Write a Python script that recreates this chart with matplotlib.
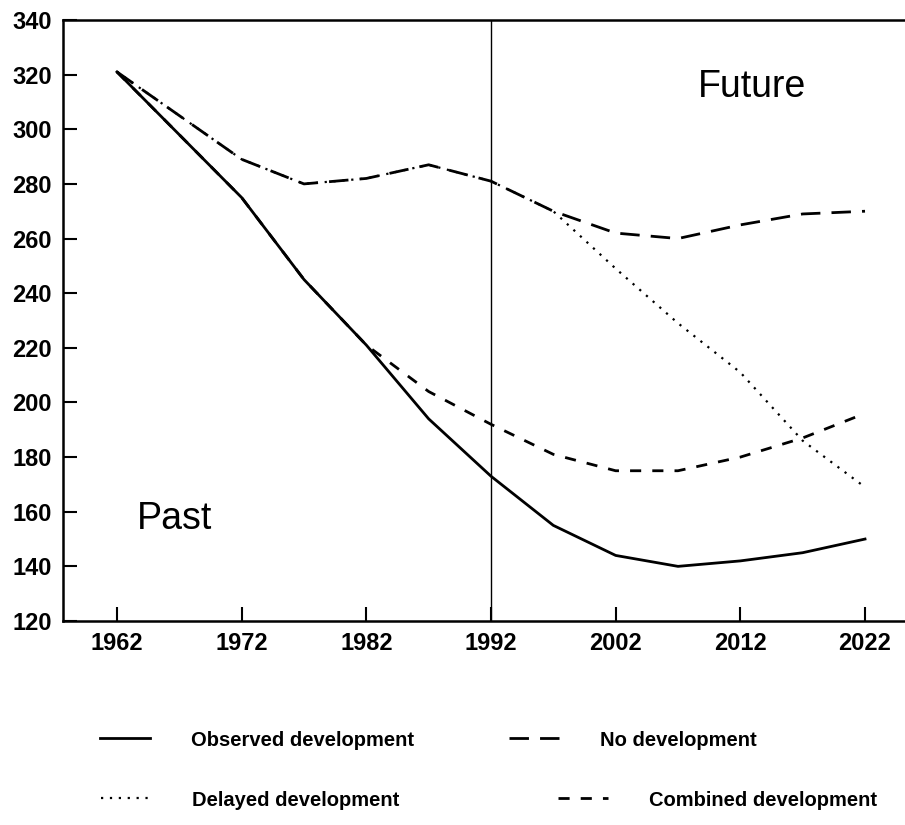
import matplotlib
matplotlib.use("Agg")
import matplotlib.pyplot as plt

plt.rcParams['font.family'] = ['Liberation Sans', 'DejaVu Sans']

years = [1962, 1972, 1977, 1982, 1987, 1992, 1997, 2002, 2007, 2012, 2017, 2022]
observed = [321, 275, 245, 221, 194, 173, 155, 144, 140, 142, 145, 150]
no_dev = [321, 289, 280, 282, 287, 281, 270, 262, 260, 265, 269, 270]
delayed = [321, 289, 280, 282, 287, 281, 270, 249, 229, 211, 186, 169]
combined = [321, 275, 245, 221, 204, 192, 181, 175, 175, 180, 187, 196]

xticks = [1962, 1972, 1982, 1992, 2002, 2012, 2022]
yticks = list(range(120, 341, 20))

fig = plt.figure(figsize=(9.05, 8.25), dpi=100)
ax = fig.add_axes([63 / 905, 1 - 621 / 825, (905 - 63) / 905, 601 / 825])

l1, = ax.plot(years, observed, color='black', lw=2.0, ls='-')
l2, = ax.plot(years, no_dev, color='black', lw=2.0, ls=(0, (7, 4)))
l3, = ax.plot(years, delayed, color='black', lw=1.6, ls=(0, (1, 3)))
l4, = ax.plot(years, combined, color='black', lw=2.0, ls=(0, (4, 4)))

ax.axvline(1992, color='black', lw=1.0)

ax.set_xlim(1962 - 54 / 12.47, 2022 + 40 / 12.47)
ax.set_ylim(120, 340)
ax.set_xticks(xticks)
ax.set_yticks(yticks)
ax.tick_params(direction='in', length=10, width=1.5, labelsize=17, pad=8)
for lab in ax.get_xticklabels() + ax.get_yticklabels():
    lab.set_fontweight('bold')
ax.spines['right'].set_visible(False)
for s in ['left', 'top', 'bottom']:
    ax.spines[s].set_linewidth(1.8)

ax.text(1963.6, 157.5, 'Past', fontsize=27, ha='left', va='center')
ax.text(2008.6, 315.5, 'Future', fontsize=27, ha='left', va='center')

# legend rows are not column-aligned in the original, so two legends
leg1 = fig.legend([l1, l2], ['Observed development', 'No development'],
                  ncol=2, loc='center left', bbox_to_anchor=(90 / 905, 1 - 740 / 825),
                  frameon=False, handlelength=2.5, handletextpad=2.0,
                  columnspacing=4.75, borderpad=0,
                  prop={'weight': 'bold', 'size': 14.5})
leg2 = fig.legend([l3, l4], ['Delayed development', 'Combined development'],
                  ncol=2, loc='center left', bbox_to_anchor=(91 / 905, 1 - 800 / 825),
                  frameon=False, handlelength=2.5, handletextpad=2.0,
                  columnspacing=7.9, borderpad=0,
                  prop={'weight': 'bold', 'size': 14.5})

fig.savefig('out.png', dpi=100)
